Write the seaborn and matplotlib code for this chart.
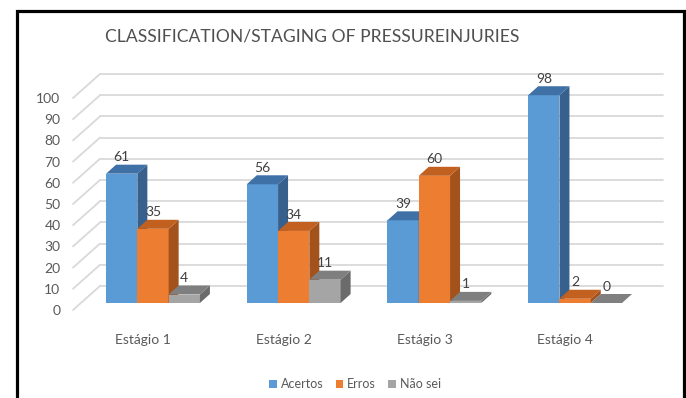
import numpy as np
import pandas as pd
import matplotlib
matplotlib.use("Agg")
import matplotlib.pyplot as plt
from matplotlib.patches import Polygon, Rectangle, Patch
from matplotlib.colors import to_hex
import seaborn as sns

# ---------------- data ----------------
categories = ["Estágio 1", "Estágio 2", "Estágio 3", "Estágio 4"]
series = ["Acertos", "Erros", "Não sei"]
acertos = [61, 56, 39, 98]
erros = [35, 34, 60, 2]
nao_sei = [4, 11, 1, 0]
y_ticks = list(range(0, 101, 10))
title = "CLASSIFICATION/STAGING OF PRESSUREINJURIES"

front_colors = ["#5B9BD5", "#ED7D31", "#A5A5A5"]
top_colors = ["#3F70A6", "#C2601F", "#7F7F7F"]
side_colors = ["#37618C", "#A3521C", "#6B6B6B"]

df = pd.DataFrame({
    "Estágio": categories * 3,
    "Resposta": np.repeat(series, len(categories)),
    "Valor": acertos + erros + nao_sei,
})

# ---------------- style ----------------
sns.set_theme(style="white")
plt.rcParams["font.family"] = ["Lato", "Open Sans", "DejaVu Sans"]
TXT = "#595959"

W, H = 686, 398
fig = plt.figure(figsize=(W / 100, H / 100), dpi=100)

# pixel scale of the "bar plane"
PXX = 140.7   # px per category
PXY = 2.12    # px per value unit
X0, Y0 = 153, 303   # pixel of category 0 centre / value 0

ax_l, ax_r, ax_t, ax_b = 66, 686, 60, 320
ax = fig.add_axes([ax_l / W, (H - ax_b) / H, (ax_r - ax_l) / W, (ax_b - ax_t) / H])

sns.barplot(data=df, x="Estágio", y="Valor", hue="Resposta", palette=front_colors,
            width=0.667, saturation=1, linewidth=0, legend=False, ax=ax)

ax.set_xlim((ax_l - X0) / PXX, (ax_r - X0) / PXX)
ax.set_ylim((Y0 - ax_b) / PXY, (Y0 - ax_t) / PXY)

# depth offsets (in data units)
ddx, ddy = 10 / PXX, 9 / PXY          # bar depth
wdx, wdy = 19 / PXX, 17 / PXY         # back wall behind bar plane
fdx, fdy = -8 / PXX, -7 / PXY         # front edge (label plane)

# back wall grid + floor diagonals
wall_x0 = (100 - X0) / PXX
wall_x1 = (663 - X0) / PXX
for v in y_ticks:
    ax.plot([wall_x0, wall_x1], [v + wdy, v + wdy], color="#D9D9D9", lw=1.3, zorder=1)
    ax.plot([wall_x0 - wdx + fdx, wall_x0], [v + fdy, v + wdy], color="#D9D9D9", lw=1.3, zorder=1)

# 3D faces for each bar
bars = sorted(list(ax.patches), key=lambda p: p.get_x())
fc_map = {to_hex(c).lower(): i for i, c in enumerate(front_colors)}
for rank, p in enumerate(bars):
    k = fc_map.get(to_hex(p.get_facecolor()).lower(), 0)
    x0, w, h = p.get_x(), p.get_width(), p.get_height()
    x1 = x0 + w
    z = 3 + rank * 0.01
    p.set_zorder(z)
    side = Polygon([(x1, 0), (x1 + ddx, ddy), (x1 + ddx, h + ddy), (x1, h)],
                   closed=True, facecolor=side_colors[k], edgecolor="none", zorder=z)
    top = Polygon([(x0, h), (x1, h), (x1 + ddx, h + ddy), (x0 + ddx, h + ddy)],
                  closed=True, facecolor=top_colors[k], edgecolor="none", zorder=z)
    ax.add_patch(side)
    ax.add_patch(top)
    ax.annotate(f"{int(round(h))}", (x0 + w / 2, h + ddy), xytext=(0, 1),
                textcoords="offset points", ha="center", va="bottom",
                fontsize=10, color="#404040", zorder=10)

# ticks
ax.set_yticks([v + fdy for v in y_ticks], labels=[str(v) for v in y_ticks])
ax.set_xticks([i - 10 / PXX for i in range(len(categories))], labels=categories)
ax.tick_params(axis="both", length=0, colors=TXT, labelsize=10)
ax.tick_params(axis="y", pad=4)
ax.tick_params(axis="x", pad=10)
ax.set_xlabel("")
ax.set_ylabel("")
for s in ax.spines.values():
    s.set_visible(False)
ax.patch.set_alpha(0)

# title
fig.text(312 / W, 1 - 36 / H, title, ha="center", va="center",
         fontsize=12.6, color="#505050")

# legend
handles = [Patch(facecolor=c, edgecolor="none") for c in front_colors]
fig.legend(handles, series, loc="center", bbox_to_anchor=(355 / W, 1 - 384 / H),
           ncol=3, frameon=False, handlelength=0.6, handleheight=0.6,
           handletextpad=0.3, columnspacing=1.0, fontsize=9, labelcolor=TXT)

# outer black frame (bottom edge falls outside the picture)
fig.add_artist(Rectangle((16.5 / W, -0.1), (683.5 - 16.5) / W, 1 - 11 / H + 0.1,
                         transform=fig.transFigure, fill=False,
                         edgecolor="black", lw=2.3))

fig.savefig("out.png", dpi=100)
